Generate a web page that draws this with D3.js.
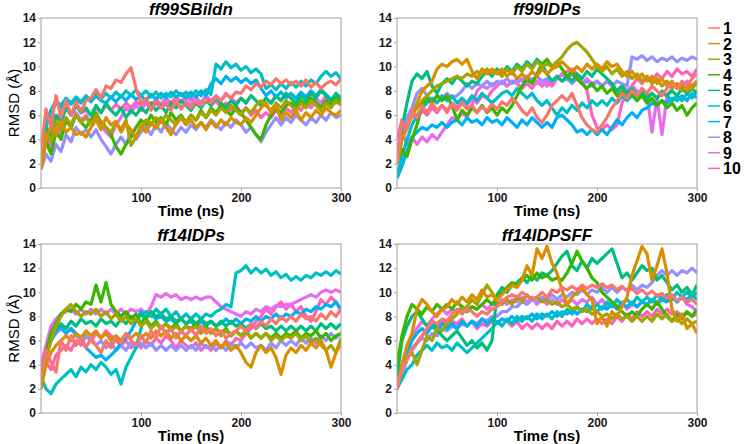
<!DOCTYPE html>
<html><head><meta charset="utf-8">
<script src="https://cdn.jsdelivr.net/npm/d3@7"></script>
<style>body{margin:0;background:#fff} text{font-family:"Liberation Sans",Arial,sans-serif}</style>
</head><body><svg id="c" width="744" height="444"></svg>
<script>
const times = d3.range(0, 301, 5);
const seriesNames = ["1","2","3","4","5","6","7","8","9","10"];
const seriesColors = ["#F8766D","#D89000","#A3A500","#39B600","#00BF7D","#00BFC4","#00B0F6","#9590FF","#E76BF3","#FF62BC"];
const panelTitles = ["ff99SBildn","ff99IDPs","ff14IDPs","ff14IDPSFF"];
const yTicks = [0,2,4,6,8,10,12,14];
const xTicks = [100,200,300];

// ff99SBildn
const A1 = [3.0,6.5,5.0,7.6,5.8,7.2,6.0,7.1,6.3,7.2, 7.4,8.1,7.4,8.4,8.2,8.9,8.7,9.4,9.9,8.2, 7.0,7.4,6.4,7.1,6.6,6.9,6.4,7.2,6.5,7.0, 6.6,7.1,6.8,7.3,7.0,7.5,7.2,7.7,7.4,7.9, 7.8,8.4,8.1,8.6,8.3,8.8,8.5,9.0,8.6,8.9, 8.5,8.8,8.4,8.9,8.3,8.7,8.2,8.6,8.8,8.5, 9.0];
const A2 = [1.5,4.0,5.2,4.3,5.5,4.6,5.0,4.4,4.6,4.2, 5.0,5.6,4.8,5.8,5.2,5.5,4.6,5.3,4.8,4.2, 5.2,4.6,5.4,4.9,5.6,5.0,4.4,5.3,5.8,5.2, 5.6,5.0,5.4,4.8,5.5,5.0,5.6,5.2,5.8,5.4, 5.2,5.8,5.4,6.0,6.6,7.0,6.2,6.8,5.6,6.2, 5.8,6.4,5.6,6.2,5.8,6.4,6.0,6.6,6.2,6.0, 6.4];
const A3 = [2.0,4.5,3.8,5.5,4.8,5.8,5.2,6.0,5.4,5.8, 5.2,6.0,5.5,5.0,4.6,5.4,4.8,5.6,3.5,4.2, 5.0,5.6,5.2,5.8,5.4,6.0,5.6,5.2,5.8,5.4, 6.0,5.6,6.2,5.8,6.4,6.0,6.6,6.2,6.8,6.4, 6.0,6.6,6.2,6.8,7.2,6.8,6.4,7.0,6.6,7.2, 6.8,6.4,7.0,6.6,7.2,6.8,6.4,7.0,6.6,7.2, 6.8];
const A4 = [1.8,3.8,2.8,4.6,4.0,5.6,5.0,6.0,5.4,5.0, 5.6,6.2,5.4,5.0,4.4,3.4,2.8,3.6,4.2,5.0, 5.6,5.2,6.0,5.4,5.8,5.2,6.2,5.6,6.0,5.4, 6.0,5.6,6.4,5.8,6.6,6.2,6.8,6.4,6.0,6.6, 6.2,5.6,5.0,4.4,4.0,5.2,6.0,6.6,6.2,6.8, 7.0,6.6,7.2,6.8,7.4,7.0,6.6,7.2,6.8,7.4, 7.0];
const A5 = [2.5,5.0,4.2,6.0,5.4,6.6,6.0,6.8,6.2,6.6, 6.0,6.8,6.2,7.0,6.4,6.0,6.6,5.8,6.4,6.0, 6.6,6.2,7.0,6.4,6.8,6.2,7.0,6.6,7.2,6.8, 6.4,7.0,6.6,7.2,6.8,7.4,7.0,6.6,7.2,6.8, 7.4,7.0,7.6,7.2,6.8,7.4,7.0,7.6,7.2,7.8, 7.4,7.0,7.6,7.2,7.8,7.4,8.0,7.6,7.2,7.8, 7.4];
const A6 = [2.5,5.5,6.4,7.2,6.8,7.4,7.0,7.5,7.1,7.6, 7.2,7.7,7.3,7.8,7.4,7.9,7.5,8.0,7.6,8.1, 7.6,8.0,7.5,7.9,7.4,7.8,7.5,8.0,7.6,7.9, 7.5,8.0,7.6,8.1,7.7,10.2,9.8,10.4,9.9,10.2, 9.7,10.0,9.5,9.8,9.4,8.2,8.5,8.1,8.6,8.2, 8.7,8.3,8.8,8.4,8.9,8.6,9.2,9.6,9.2,9.5, 9.0];
const A7 = [2.0,5.0,6.2,7.0,6.6,7.3,6.9,7.4,7.0,7.5, 7.1,7.6,7.2,7.0,7.5,7.1,7.6,7.2,7.7,7.3, 7.6,7.2,7.7,7.3,7.8,7.4,7.9,7.5,7.8,7.4, 7.9,7.5,8.0,7.6,8.6,9.0,8.6,9.2,8.8,9.1, 8.7,9.0,8.6,8.9,8.2,7.6,8.0,7.5,7.9,7.4, 7.8,7.4,7.9,7.5,8.0,7.6,8.1,7.7,7.3,7.6, 7.2];
const A8 = [1.5,2.8,2.2,3.6,3.0,4.4,3.8,5.0,4.4,4.8, 4.2,4.8,4.0,3.4,2.8,3.6,4.2,3.6,4.6,4.0, 4.6,5.0,4.4,5.2,4.6,5.4,4.8,4.4,5.0,4.6, 5.2,4.8,5.4,5.0,5.6,5.2,4.8,5.4,5.0,5.6, 5.2,4.6,5.0,4.4,3.8,4.6,5.2,5.8,5.2,5.8, 5.4,6.0,5.6,5.2,5.8,5.4,6.0,5.6,6.2,5.8, 6.0];
const A9 = [3.0,4.0,3.6,5.0,4.4,5.8,5.2,6.2,5.6,6.0, 5.4,6.0,5.2,4.6,4.2,5.2,5.8,6.6,6.2,6.8, 6.4,7.0,6.6,7.0,6.6,7.2,6.8,7.0,6.6,7.2, 6.8,7.4,7.0,7.6,7.2,7.6,7.2,7.8,7.4,7.0, 7.4,7.0,7.6,7.2,6.8,7.4,7.0,7.6,7.2,7.8, 7.4,7.0,7.6,7.2,6.8,7.4,7.0,7.6,7.2,7.0, 7.4];
const A10 = [3.0,4.2,3.0,5.6,6.2,6.6,6.0,6.8,6.2,6.4, 6.0,6.6,6.2,6.8,6.4,6.9,6.5,7.0,6.6,7.1, 6.8,7.2,6.8,7.3,6.9,7.4,7.0,7.5,7.1,7.6, 7.2,7.5,7.0,7.4,6.8,7.2,6.6,7.0,6.4,6.8, 6.2,6.6,6.0,6.4,5.8,6.2,5.8,6.4,6.0,6.6, 6.2,6.8,6.4,7.0,6.6,7.2,6.8,7.4,7.0,7.6, 7.2];

// ff99IDPs
const B1 = [2.0,5.5,4.8,6.4,5.8,6.8,6.2,7.0,6.4,6.8, 6.2,6.9,6.4,7.0,6.5,6.8,6.2,6.7,6.3,6.9, 6.5,7.1,6.8,7.4,7.0,6.4,6.0,6.6,5.8,5.4, 6.0,6.8,7.2,7.6,7.2,7.8,6.8,5.8,5.2,4.8, 4.6,5.2,5.8,6.6,7.2,7.8,7.4,8.0,7.6,8.2, 7.8,8.4,8.0,7.6,8.2,8.6,8.2,8.8,8.4,9.0, 9.4];
const B2 = [2.0,4.0,5.0,6.0,7.0,8.0,8.4,8.8,9.8,10.2, 10.0,10.4,10.6,10.2,10.6,9.6,9.0,9.8,9.4,9.8, 9.4,9.8,9.2,9.6,9.0,9.4,9.0,9.6,9.2,9.8, 9.4,9.8,10.0,10.4,10.0,9.6,10.0,9.6,10.2,9.8, 10.2,9.8,10.4,10.0,10.2,9.6,9.2,9.6,9.0,9.4, 8.8,9.2,8.6,9.0,8.4,8.8,8.2,8.6,8.0,8.4, 8.8];
const B3 = [2.0,4.0,5.0,6.0,6.6,7.2,7.6,8.0,8.4,8.6, 8.8,9.0,9.2,9.0,9.4,9.2,9.6,9.4,9.8,9.4, 9.6,9.2,9.8,9.4,10.0,9.6,10.2,9.8,10.4,10.0, 10.2,10.0,10.4,10.8,11.4,11.8,12.0,11.6,11.2,10.6, 10.0,9.6,10.0,9.4,9.8,9.2,9.6,9.0,9.4,8.8, 9.2,8.6,9.0,8.4,8.8,8.2,8.6,8.0,8.4,8.2, 8.6];
const B4 = [2.0,3.2,2.6,4.0,5.2,6.8,7.4,7.0,7.6,7.2, 7.6,6.8,5.6,6.4,6.0,6.6,6.2,6.8,6.2,6.6, 6.0,6.6,6.2,6.8,7.6,8.4,9.0,8.6,9.4,10.2, 10.6,10.0,10.4,9.8,9.2,9.6,9.0,8.6,8.2,8.6, 8.0,8.4,7.8,8.2,7.6,8.0,7.4,7.8,7.2,7.6, 7.0,7.4,6.8,7.2,6.6,7.0,6.4,6.8,6.0,6.6, 7.0];
const B5 = [2.0,5.0,7.0,8.8,9.4,9.0,9.6,8.4,7.8,8.6, 9.0,8.6,9.2,8.8,8.4,8.8,8.6,9.2,9.6,9.2, 9.8,9.4,10.0,9.6,10.2,9.8,10.4,10.0,10.6,10.2, 9.4,8.8,9.2,8.8,9.2,8.8,9.4,9.0,9.6,9.2, 9.8,9.4,9.0,8.6,8.0,8.4,7.8,8.2,7.6,8.0, 7.4,7.8,7.4,7.8,7.6,8.0,7.6,8.2,7.8,8.2, 7.8];
const B6 = [1.0,2.6,4.0,5.2,6.0,6.6,7.0,7.4,7.0,7.6, 7.2,7.6,7.0,7.4,7.0,7.6,7.2,7.8,7.4,7.0, 7.4,7.8,8.0,7.6,8.2,7.8,7.4,7.8,7.2,6.8, 7.2,6.6,6.0,6.6,6.2,6.8,6.4,7.0,6.6,7.2, 6.8,7.2,6.8,7.4,7.0,7.6,7.2,7.6,7.2,7.8, 7.4,7.8,7.4,8.0,7.6,7.2,7.6,7.2,7.8,7.4, 8.0];
const B7 = [0.8,1.8,3.0,4.2,4.6,5.0,4.8,5.2,5.0,5.4, 5.0,5.4,5.6,5.2,5.8,5.4,5.6,5.2,5.8,5.4, 5.6,5.2,5.8,5.4,5.0,5.6,5.2,5.8,5.4,5.0, 5.4,5.0,5.8,6.0,5.6,5.2,4.6,4.8,4.4,4.8, 4.4,4.8,4.4,5.0,5.6,5.2,5.8,6.2,5.8,6.4, 6.6,7.0,6.8,7.2,7.0,7.4,7.2,7.6,7.2,7.8, 7.4];
const B8 = [3.0,4.6,5.8,6.6,7.8,8.2,7.6,7.2,7.6,7.4, 7.8,7.4,7.6,8.0,8.6,8.2,8.6,8.4,8.8,8.4, 8.8,8.6,9.0,8.6,9.0,8.8,9.2,8.8,9.2,8.8, 9.0,8.8,9.2,8.8,9.0,8.6,9.0,8.6,8.8,8.4, 8.8,8.4,8.8,8.4,8.8,8.6,8.4,10.8,10.6,10.9, 10.5,10.8,10.4,10.7,10.5,10.8,10.4,10.7,10.5,10.8, 10.6];
const B9 = [3.0,4.6,3.6,4.2,3.6,4.2,3.8,4.4,4.0,4.6, 5.2,5.8,5.6,6.2,5.8,6.8,8.0,8.4,8.2,8.6, 8.4,8.8,8.4,8.8,8.6,9.0,8.6,9.0,8.6,8.8, 8.4,8.8,9.0,9.4,9.0,9.4,9.0,8.6,9.0,8.6, 8.8,8.4,8.8,8.4,8.0,8.4,8.0,8.4,8.0,7.6, 7.8,4.6,7.4,4.4,7.6,8.2,8.6,8.2,8.8,8.4, 8.8];
const B10 = [4.0,5.6,5.0,6.2,5.6,6.4,6.0,6.6,6.2,6.8, 6.4,7.0,6.6,7.2,6.8,7.4,7.0,7.6,7.4,8.0, 8.4,8.8,8.4,8.8,8.6,8.2,8.6,8.2,8.8,8.4, 8.8,8.4,9.0,9.4,9.6,9.8,9.4,8.8,8.0,6.0, 5.0,4.8,5.2,4.8,5.2,7.0,7.8,8.4,9.0,8.6, 9.2,8.8,9.4,9.0,9.6,9.2,9.8,9.4,9.6,9.2, 9.8];

// ff14IDPs
const C1 = [3.0,5.2,4.2,3.4,6.0,5.2,6.4,5.6,6.2,5.4, 6.2,5.6,5.0,6.0,5.4,6.2,5.8,6.6,6.0,5.6, 6.4,5.8,6.8,6.2,7.2,6.6,7.0,6.2,6.8,6.4, 7.0,6.4,7.2,6.6,7.0,6.4,6.8,6.2,6.6,6.8, 7.2,6.8,7.4,7.0,7.6,7.2,7.8,7.4,8.0,7.6, 8.0,7.6,8.2,7.8,8.0,7.6,8.2,7.8,8.4,8.0, 8.6];
const C2 = [2.0,4.0,5.0,5.6,6.0,6.4,6.0,6.6,6.2,6.8, 6.4,6.8,6.2,6.6,6.0,6.4,6.0,6.6,6.2,6.6, 6.2,6.6,6.2,6.8,6.4,6.8,6.2,6.6,6.0,6.4, 6.0,6.4,5.8,6.2,5.6,6.0,5.4,5.8,5.2,5.6, 5.0,4.2,3.8,5.0,5.6,5.0,5.4,4.6,3.2,4.8, 5.4,5.0,5.6,5.2,5.8,5.4,6.0,5.2,3.8,5.0, 5.8];
const C3 = [2.0,4.4,6.0,7.2,8.0,8.6,9.0,8.4,8.0,8.4, 8.2,8.6,8.0,8.4,7.8,8.2,7.6,8.0,7.4,7.8, 7.2,7.6,7.0,7.4,7.0,7.4,6.8,7.2,6.8,7.2, 6.8,7.2,6.6,7.0,6.6,7.0,6.4,6.8,6.4,6.8, 6.4,6.8,6.2,6.6,6.2,6.6,6.0,6.4,6.0,6.4, 6.2,6.6,6.0,6.4,5.8,6.2,5.6,5.2,5.6,5.0, 6.2];
const C4 = [3.0,5.0,6.6,7.4,8.2,8.6,8.4,9.0,8.6,9.2, 9.0,10.6,9.2,10.8,9.0,8.4,8.0,8.4,7.8,8.2, 7.4,7.8,7.2,7.6,7.0,7.4,7.0,7.4,6.8,7.2, 7.0,7.4,6.8,7.2,6.6,7.0,6.6,7.0,6.4,6.8, 6.4,6.8,6.2,6.6,6.2,6.6,6.2,6.6,6.2,6.6, 6.4,6.8,6.2,6.6,6.4,6.8,6.2,6.6,6.0,6.4, 6.6];
const C5 = [3.0,5.0,6.4,7.0,7.4,7.0,7.6,7.2,7.8,7.4, 7.6,7.2,7.8,7.4,7.6,7.2,7.8,7.4,8.0,7.6, 8.2,7.8,8.4,8.0,8.2,7.8,8.0,7.6,7.8,7.4, 7.8,7.4,7.8,7.4,7.6,7.2,7.6,7.2,7.6,7.2, 7.4,7.0,7.4,7.0,7.4,7.0,7.2,6.8,7.2,6.8, 7.2,6.8,7.2,6.8,7.2,6.8,7.4,7.0,7.4,7.0, 7.4];
const C6 = [3.0,2.0,1.6,2.4,2.8,3.2,3.6,3.0,3.8,3.4, 4.0,3.6,4.2,3.8,3.2,3.6,2.4,3.8,4.6,5.4, 7.0,8.4,8.0,8.6,8.2,8.6,8.0,8.4,7.8,8.2, 7.8,8.2,7.8,8.2,8.0,8.4,8.6,9.0,8.8,11.6, 11.8,12.2,11.6,12.0,11.6,11.9,11.4,11.7,11.2,11.5, 11.0,11.3,11.0,11.4,11.2,11.6,11.4,11.7,11.4,11.8, 11.5];
const C7 = [3.0,4.6,6.0,6.8,7.2,6.6,7.0,6.6,6.2,5.4, 5.0,4.6,4.8,4.4,4.8,5.2,5.8,6.2,6.8,7.6, 8.4,8.0,8.2,7.8,8.0,7.6,7.8,7.4,7.8,7.4, 7.6,7.2,7.6,7.2,7.6,7.2,7.4,7.8,7.4,7.8, 7.4,7.8,7.6,8.0,7.6,8.0,7.8,8.2,7.8,8.2, 8.0,8.4,8.2,8.6,8.4,8.8,8.6,9.0,8.8,9.2, 8.6];
const C8 = [3.0,5.0,6.0,6.6,7.0,6.6,7.0,6.4,6.0,6.4, 6.0,5.6,6.0,5.4,5.8,5.2,5.6,5.2,5.8,5.4, 5.8,5.4,5.8,5.2,5.6,5.2,5.6,5.2,5.6,5.2, 5.6,5.2,5.8,5.4,5.6,5.2,5.6,5.2,5.8,5.4, 5.8,5.4,5.8,5.4,5.6,5.2,5.8,5.4,6.0,5.6, 6.0,5.6,6.2,5.8,6.2,5.8,6.4,6.0,6.6,6.2, 6.6];
const C9 = [4.0,5.6,7.2,7.8,8.2,8.4,8.6,8.2,8.6,8.2, 8.6,8.2,8.6,8.2,8.6,8.2,8.6,8.2,8.6,8.4, 8.6,8.2,8.8,9.8,9.6,9.9,9.6,9.8,9.4,9.6, 9.4,9.6,9.4,9.6,9.6,9.2,8.8,8.6,8.4,8.2, 8.0,8.4,8.2,8.6,8.4,8.8,8.6,8.9,8.8,9.0, 9.0,9.2,9.4,9.6,9.8,9.6,10.0,10.2,10.0,10.2, 10.0];
const C10 = [3.0,4.2,3.6,4.8,5.2,5.6,5.2,6.0,5.6,6.4, 6.0,6.6,6.2,6.8,6.4,6.0,5.6,6.0,5.4,5.8, 5.4,6.0,5.6,6.2,5.8,6.4,6.0,5.4,6.0,5.6, 5.4,5.8,5.2,5.6,5.2,5.8,5.4,6.0,5.6,6.2, 6.0,6.6,7.0,7.6,8.0,8.6,8.2,8.8,9.2,8.6, 9.0,8.4,8.8,8.0,7.6,8.4,9.4,9.0,9.6,9.2, 8.4];

// ff14IDPSFF
const D1 = [2.0,3.6,4.4,5.4,5.8,6.4,7.0,7.6,7.4,7.8, 7.6,8.2,8.6,8.2,8.6,8.4,8.0,8.4,8.2,8.6, 8.8,9.2,9.6,9.8,9.6,10.0,9.7,9.4,9.6,10.0, 9.6,10.2,10.0,10.4,10.2,10.5,10.2,10.6,10.3,10.6, 10.4,10.7,10.4,10.6,10.2,10.5,10.1,10.3,9.9,10.2, 9.8,10.1,9.7,9.9,9.5,9.8,9.3,9.6,9.2,9.4, 9.0];
const D2 = [2.0,4.0,5.6,6.6,8.6,9.4,9.0,8.4,8.0,8.6, 8.8,9.4,9.0,9.6,9.2,9.8,9.4,10.2,9.6,9.8, 9.4,9.8,10.2,10.6,10.4,11.0,12.2,11.4,13.6,12.8, 13.8,12.4,11.6,10.2,9.0,9.6,10.0,10.4,9.8,9.4, 7.4,8.0,7.2,8.4,8.0,8.8,9.6,11.4,12.6,13.8, 13.2,11.0,12.2,13.6,11.6,8.6,7.6,8.2,7.0,7.4, 6.6];
const D3 = [2.0,3.6,4.6,5.0,4.0,5.2,6.4,6.0,7.0,6.8, 7.4,7.8,8.2,8.6,8.8,9.4,9.0,9.8,10.6,10.0, 9.2,9.0,9.4,9.0,9.6,9.2,9.8,9.4,9.6,9.2, 9.4,9.0,9.2,8.8,9.0,8.6,8.8,8.4,8.6,8.2, 8.4,8.0,8.2,7.8,8.2,7.8,8.0,7.6,8.0,7.6, 8.0,7.6,8.2,7.8,8.2,7.6,7.8,7.4,7.8,7.4, 7.6];
const D4 = [4.0,6.4,8.0,9.0,8.6,8.2,8.8,8.4,9.0,8.6, 9.0,8.6,9.2,8.8,8.4,8.8,8.6,9.0,9.4,9.0, 9.6,10.0,10.4,10.8,10.6,11.0,11.4,11.0,11.6,11.2, 11.4,11.0,11.2,11.0,11.6,12.4,13.4,12.6,12.0,11.2, 10.8,10.0,9.6,9.2,8.8,8.4,8.0,8.4,8.0,8.6, 9.0,8.6,9.2,8.6,8.0,7.6,8.2,7.8,8.4,8.0, 8.6];
const D5 = [3.0,6.0,7.2,8.0,8.4,7.8,7.2,7.6,7.0,6.4, 6.0,6.4,6.8,6.2,5.6,6.0,5.4,5.8,5.2,6.0, 9.8,10.4,10.0,10.6,10.8,11.2,10.8,11.4,11.0,11.6, 11.4,11.8,12.4,13.0,13.4,12.2,11.8,12.6,12.0,12.8, 12.4,12.8,13.2,13.6,12.4,11.2,11.6,11.0,11.6,12.2, 11.8,12.0,11.0,11.4,10.8,10.2,10.6,10.0,10.4,9.8, 10.6];
const D6 = [2.0,2.8,3.6,4.0,4.8,5.2,5.6,5.2,5.8,5.4, 5.6,5.2,5.8,5.4,5.0,5.4,5.8,6.2,6.6,7.0, 7.6,7.2,7.8,7.4,8.0,7.6,8.0,7.6,8.2,7.8, 8.2,7.8,8.4,8.0,8.6,8.2,8.8,8.4,9.0,8.6, 9.0,8.6,9.2,8.8,9.4,9.0,9.4,9.0,9.6,9.2, 9.6,9.2,9.8,9.4,9.8,9.4,10.0,9.6,10.0,9.6, 10.0];
const D7 = [2.0,3.6,5.0,6.0,6.6,7.0,6.6,7.2,6.8,7.4, 7.0,7.4,7.0,7.6,7.2,7.6,7.2,7.8,7.4,7.8, 7.4,7.8,7.6,8.0,7.6,8.0,7.8,8.2,7.8,8.2, 8.0,8.4,8.0,8.4,8.2,8.6,8.2,8.6,8.4,8.8, 8.4,8.8,8.6,9.0,8.6,9.0,8.8,9.2,8.8,9.2, 9.0,9.4,9.0,9.4,9.2,9.6,9.2,9.6,9.4,9.8, 9.4];
const D8 = [2.0,3.2,4.4,5.2,5.8,6.2,6.0,6.6,6.4,7.0, 6.8,7.2,7.0,7.4,7.2,7.6,7.4,7.8,7.6,8.0, 8.0,8.4,8.4,8.8,8.8,9.2,9.0,9.4,9.2,9.6, 9.4,9.8,9.4,9.8,9.6,10.0,9.8,10.2,9.8,10.2, 10.0,10.4,10.0,10.4,10.0,10.4,10.2,10.6,10.2,10.6, 10.4,10.8,11.4,11.8,11.4,11.8,11.4,11.8,11.6,12.0, 11.6];
const D9 = [2.0,4.0,5.4,6.4,7.0,7.6,7.2,7.8,8.2,8.6, 8.2,8.6,8.4,8.8,8.4,8.8,8.6,9.0,8.6,9.0, 9.0,9.4,9.0,9.4,9.2,9.6,9.2,9.6,9.0,9.4, 9.0,9.4,9.0,9.4,9.0,9.4,9.0,9.4,9.2,9.6, 9.0,9.4,8.8,9.2,8.8,9.2,8.6,9.0,8.8,9.2, 9.0,9.4,9.2,9.6,9.4,9.8,9.2,9.6,9.0,8.8, 8.4];
const D10 = [3.0,4.0,4.6,5.2,5.8,6.4,6.8,7.2,7.0,7.6, 7.2,7.6,7.4,7.8,7.2,7.6,7.0,7.4,7.2,7.6, 7.4,7.8,7.6,7.2,7.6,7.0,7.4,7.0,7.4,7.0, 7.4,7.0,7.6,7.2,7.6,7.2,7.8,7.4,7.8,7.4, 7.8,7.4,7.8,7.4,8.0,7.6,8.2,7.8,8.4,8.0, 8.4,8.0,8.6,8.2,8.6,8.2,8.4,8.0,8.4,8.0, 8.2];

const panelSeries = [
  [A1,A2,A3,A4,A5,A6,A7,A8,A9,A10],
  [B1,B2,B3,B4,B5,B6,B7,B8,B9,B10],
  [C1,C2,C3,C4,C5,C6,C7,C8,C9,C10],
  [D1,D2,D3,D4,D5,D6,D7,D8,D9,D10]
];

const svg = d3.select("#c");
const boxes = [
  {x0:41, x1:341, y0:18, y1:188, ylab:true},
  {x0:397, x1:697, y0:18, y1:188, ylab:false},
  {x0:41, x1:341, y0:244, y1:413, ylab:true},
  {x0:397, x1:697, y0:244, y1:413, ylab:false}
];
const gridCol = "#a6a6a6";

boxes.forEach((b, pi) => {
  const x = d3.scaleLinear().domain([0,300]).range([b.x0, b.x1]);
  const y = d3.scaleLinear().domain([0,14]).range([b.y1, b.y0]);
  const g = svg.append("g");
  const cid = "clip" + pi;
  svg.append("clipPath").attr("id", cid).append("rect")
    .attr("x", b.x0).attr("y", b.y0).attr("width", b.x1 - b.x0).attr("height", b.y1 - b.y0);

  const line = d3.line().x((d,i) => x(times[i])).y(d => y(d));
  const lg = g.append("g").attr("clip-path", `url(#${cid})`);
  const order = d3.range(9, -1, -1);
  order.forEach(si => {
    lg.append("path").datum(panelSeries[pi][si])
      .attr("d", line).attr("fill","none")
      .attr("stroke", seriesColors[si]).attr("stroke-width", 3.2)
      .attr("stroke-linejoin","round");
  });

  g.append("rect").attr("x", b.x0).attr("y", b.y0).attr("width", b.x1-b.x0).attr("height", b.y1-b.y0)
    .attr("fill","none").attr("stroke", gridCol).attr("stroke-width", 1.1);

  const ya = g.append("g").attr("transform", `translate(${b.x0},0)`)
    .call(d3.axisLeft(y).tickValues(yTicks).tickSize(3).tickPadding(2));
  const xa = g.append("g").attr("transform", `translate(0,${b.y1})`)
    .call(d3.axisBottom(x).tickValues(xTicks).tickSize(3).tickPadding(2));
  [ya, xa].forEach(a => {
    a.select(".domain").remove();
    a.selectAll("line").attr("stroke", gridCol);
    a.selectAll("text").attr("font-size", 12).attr("font-weight","bold")
      .attr("fill","#1a1a1a").attr("font-family", '"Liberation Sans",Arial,sans-serif');
  });

  g.append("text").attr("x", (b.x0+b.x1)/2).attr("y", b.y0 - 3)
    .attr("text-anchor","middle").attr("font-size", 17).attr("font-weight","bold")
    .attr("font-style","italic").attr("fill","#000").text(panelTitles[pi]);
  g.append("text").attr("x", (b.x0+b.x1)/2).attr("y", b.y1 + 28)
    .attr("text-anchor","middle").attr("font-size", 15).attr("font-weight","bold")
    .attr("fill","#000").text("Time (ns)");
  if (b.ylab) {
    g.append("text").attr("transform", `translate(19,${(b.y0+b.y1)/2}) rotate(-90)`)
      .attr("text-anchor","middle").attr("font-size", 15).attr("fill","#000").text("RMSD (Å)");
  }
});

const leg = svg.append("g");
seriesNames.forEach((n, i) => {
  const yy = 28 + i * 15.6;
  leg.append("line").attr("x1", 708).attr("x2", 720).attr("y1", yy).attr("y2", yy)
    .attr("stroke", seriesColors[i]).attr("stroke-width", 1.5);
  leg.append("text").attr("x", 723).attr("y", yy + 6).attr("font-size", 16)
    .attr("font-weight","bold").attr("fill","#000").text(n);
});
</script></body></html>
